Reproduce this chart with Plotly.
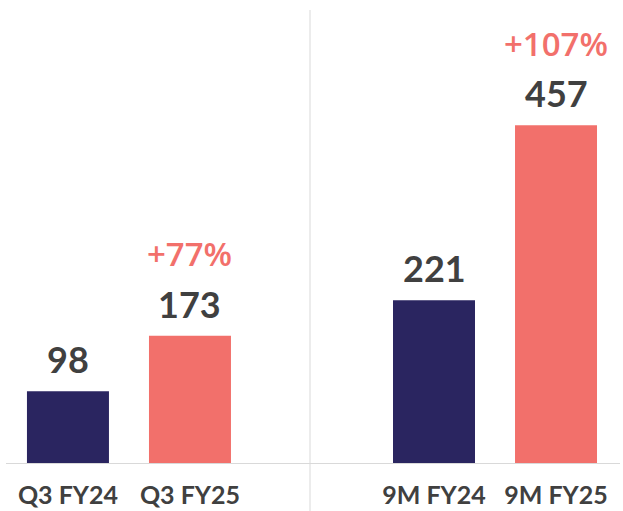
import plotly.graph_objects as go

# Revenue by period (values shown above bars)
categories = ["Q3 FY24", "Q3 FY25", "9M FY24", "9M FY25"]
values = [98, 173, 221, 457]
growth = ["", "+77%", "", "+107%"]
axis_order = ["Q3 FY24", "Q3 FY25", " ", "9M FY24", "9M FY25"]

NAVY = "#2A2560"
SALMON = "#F2706B"
TEXT = "#404040"
GRID = "#D9D9D9"
FONT = "Lato"

bar_colors = [NAVY, SALMON, NAVY, SALMON]

fig = go.Figure()
fig.add_trace(go.Bar(
    x=categories,
    y=values,
    marker=dict(color=bar_colors, line=dict(width=0)),
    width=0.672,
    hoverinfo="skip",
))

# value labels and growth labels above each bar
for cat, val, g in zip(categories, values, growth):
    fig.add_annotation(
        x=cat, y=val, xref="x", yref="y",
        text=f"<b>{val}</b>", showarrow=False,
        yanchor="middle", yshift=32,
        font=dict(family=FONT, size=36, color=TEXT),
    )
    if g:
        fig.add_annotation(
            x=cat, y=val, xref="x", yref="y",
            text=g, showarrow=False,
            yanchor="middle", yshift=82,
            font=dict(family="Open Sans", size=33, color=SALMON, weight=600),
        )

# vertical separator between quarterly and nine-month groups
fig.add_shape(type="line", xref="paper", yref="paper",
              x0=310 / 623, x1=310 / 623, y0=0 - 47 / 464, y1=1 - 10 / 464,
              line=dict(color=GRID, width=1))
# baseline
fig.add_shape(type="line", xref="paper", yref="y",
              x0=6 / 623, x1=620 / 623, y0=0, y1=0,
              line=dict(color=GRID, width=2))

fig.update_layout(
    width=623, height=511,
    margin=dict(l=0, r=0, t=0, b=47, autoexpand=False),
    paper_bgcolor="white", plot_bgcolor="white",
    showlegend=False,
    xaxis=dict(
        type="category",
        categoryorder="array", categoryarray=axis_order,
        tickvals=categories, ticktext=[f"<b>{c}</b>" for c in categories],
        range=[-0.557, 4.549],
        showgrid=False, zeroline=False, showline=False,
        ticks="", ticklabelstandoff=14, automargin=False,
        tickfont=dict(family=FONT, size=25, color=TEXT),
    ),
    yaxis=dict(
        range=[0, 626], visible=False, showgrid=False, zeroline=False,
        automargin=False,
    ),
)

fig.write_html("out.html")
